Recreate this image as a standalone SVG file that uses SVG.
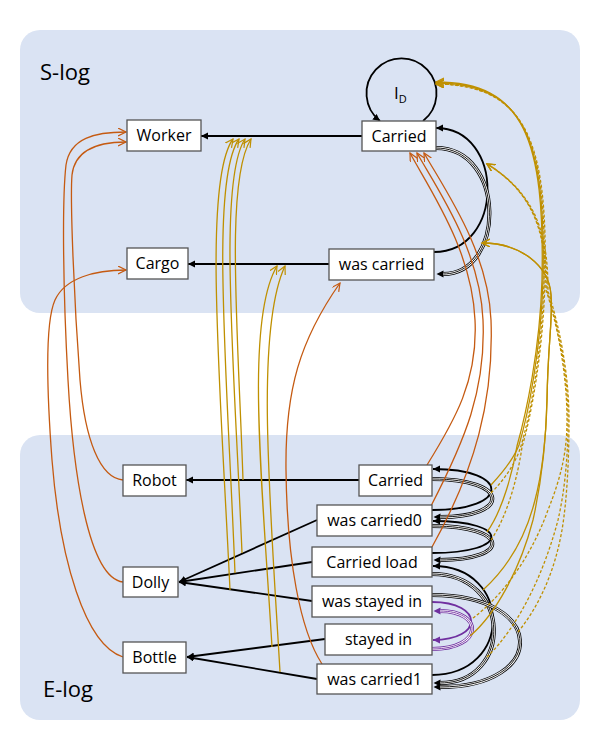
<svg xmlns="http://www.w3.org/2000/svg" xmlns:xlink="http://www.w3.org/1999/xlink" width="599" height="749" viewBox="0 0 599 749">
<style>
.panel{fill:#dae3f3}
.box{fill:#fff;stroke:#555;stroke-width:1.3}
.t{font-family:"Open Sans","Liberation Sans",sans-serif;font-size:16px;text-anchor:middle;fill:#000}
.lbl{font-family:"Open Sans","Liberation Sans",sans-serif;font-size:22px;fill:#000}
.blk{fill:none;stroke:#000;stroke-width:1.8;marker-end:url(#aTip)}
.to{fill:none;stroke:#000;stroke-width:4;marker-end:url(#aBase)}
.tw{fill:none;stroke:#fff;stroke-width:2.4}
.ti{fill:none;stroke:#000;stroke-width:0.9}
.po{fill:none;stroke:#7030A0;stroke-width:4;marker-end:url(#pBase)}
.pi{fill:none;stroke:#7030A0;stroke-width:0.9}
.ps{fill:none;stroke:#7030A0;stroke-width:1.8;marker-end:url(#pTip)}
.or{fill:none;stroke:#C55A11;stroke-width:1.3;marker-end:url(#oArr)}
.gd{fill:none;stroke:#BF9000;stroke-width:1.3;marker-end:url(#gArr)}
.gdd{fill:none;stroke:#BF9000;stroke-width:1.3;stroke-dasharray:3 2;marker-end:url(#gArr)}
</style>
<defs>
<marker id="aTip" markerUnits="userSpaceOnUse" markerWidth="9" markerHeight="9" refX="7" refY="3.5" orient="auto"><path d="M0,0 L7,3.5 L0,7 z" fill="#000"/></marker>
<marker id="aBase" markerUnits="userSpaceOnUse" markerWidth="9" markerHeight="9" refX="0.5" refY="3.5" orient="auto"><path d="M0,0 L7,3.5 L0,7 z" fill="#000"/></marker>
<marker id="pTip" markerUnits="userSpaceOnUse" markerWidth="9" markerHeight="9" refX="7" refY="3.5" orient="auto"><path d="M0,0 L7,3.5 L0,7 z" fill="#7030A0"/></marker>
<marker id="pBase" markerUnits="userSpaceOnUse" markerWidth="9" markerHeight="9" refX="0.5" refY="3.5" orient="auto"><path d="M0,0 L7,3.5 L0,7 z" fill="#7030A0"/></marker>
<marker id="oArr" markerUnits="userSpaceOnUse" markerWidth="10" markerHeight="10" refX="8" refY="4" orient="auto"><path d="M0,0 L8,4 L0,8" fill="none" stroke="#C55A11" stroke-width="1.2"/></marker>
<marker id="gArr" markerUnits="userSpaceOnUse" markerWidth="10" markerHeight="10" refX="8" refY="4" orient="auto"><path d="M0,0 L8,4 L0,8" fill="none" stroke="#BF9000" stroke-width="1.2"/></marker>
<path id="sT" d="M436,148 C506,148 506,274 443,274"/>
<path id="e1T" d="M432,479 C511,479 511,517 440,517"/>
<path id="e2T" d="M432,526 C511,526 511,560 440,560"/>
<path id="e3T" d="M432,574 C513,574 513,683 440,683"/>
<path id="e4T" d="M432,595 C548,595 548,687 440,687"/>
<path id="pT" d="M432,649 C484,649 484,611 440,611"/>
</defs>

<rect class="panel" x="20" y="30" width="560" height="283" rx="20"/>
<rect class="panel" x="20" y="435" width="560" height="285" rx="20"/>
<text class="lbl" x="40" y="80">S-log</text>
<text class="lbl" x="43" y="697">E-log</text>

<g id="connectors">
<!-- black straight -->
<path class="blk" d="M362,136 L201,136"/>
<path class="blk" d="M329,264 L188,264"/>
<path class="blk" d="M359,480 L186,480"/>
<path class="blk" d="M317,520 L179,582"/>
<path class="blk" d="M312,562 L179,582"/>
<path class="blk" d="M312,601 L179,582"/>
<path class="blk" d="M325,639 L187,657"/>
<path class="blk" d="M317,679 L187,657"/>
<!-- I_D loop -->
<path class="blk" d="M423,121 A35,35 0 1 0 380,121"/>
<!-- S-log loops -->
<path class="blk" d="M434,252 C505,252 505,128 436,128"/>
<use xlink:href="#sT" class="to"/><use xlink:href="#sT" class="tw"/><use xlink:href="#sT" class="ti"/>
<!-- E-log loops -->
<path class="blk" d="M432,510 C511,510 511,469 433,469"/>
<use xlink:href="#e1T" class="to"/><use xlink:href="#e1T" class="tw"/><use xlink:href="#e1T" class="ti"/>
<use xlink:href="#e2T" class="to"/><use xlink:href="#e2T" class="tw"/><use xlink:href="#e2T" class="ti"/>
<path class="blk" d="M432,553 C511,553 511,521 433,521"/>
<path class="blk" d="M432,675 C513,675 513,566 433,566"/>
<use xlink:href="#e3T" class="to"/><use xlink:href="#e3T" class="tw"/><use xlink:href="#e3T" class="ti"/>
<use xlink:href="#e4T" class="to"/><use xlink:href="#e4T" class="tw"/><use xlink:href="#e4T" class="ti"/>
<!-- purple -->
<path class="ps" d="M432,602 C484,602 484,640 433,640"/>
<use xlink:href="#pT" class="po"/><use xlink:href="#pT" class="tw"/><use xlink:href="#pT" class="pi"/>
<!-- orange -->
<path class="or" d="M123,582 C88,578 73,470 68,380 C63,290 62,200 66,165 C70,138 95,132 126,132"/>
<path class="or" d="M123,480 C100,478 85,440 80,380 C74,300 70,200 72,175 C75,148 100,142 126,142"/>
<path class="or" d="M123,657 C85,645 60,560 52,460 C46,380 46,320 55,300 C65,278 95,270 126,270"/>
<path class="or" d="M427,465 C455,420 478,380 475,320 C472,250 430,190 410,153"/>
<path class="or" d="M431,506 C465,440 486,390 483,320 C480,250 438,190 417,153"/>
<path class="or" d="M432,547 C475,470 494,400 491,320 C488,250 445,190 424,153"/>
<path class="or" d="M322,664 C300,630 287,560 286,470 C285,390 300,340 340,283"/>
<!-- gold to Worker edge -->
<path class="gd" d="M230,590 C220,380 203,180 233,139"/>
<path class="gd" d="M235,573 C227,370 210,180 239,139"/>
<path class="gd" d="M242,553 C234,360 218,180 245,139"/>
<path class="gd" d="M243,480 C238,330 225,180 251,139"/>
<!-- gold to Cargo edge -->
<path class="gd" d="M272,647 C262,480 245,320 277,266"/>
<path class="gd" d="M280,672 C270,500 255,330 285,266"/>
<!-- gold to I_D -->
<path class="gd" d="M491,485 C505,470 514,458 519,445 C528,415 541,350 543,280 C546,140 525,83 436,83"/>
<path class="gdd" d="M491,493 C506,478 516,462 521,446 C530,416 542,352 544,281 C547,141 526,84 436,84"/>
<path class="gd" d="M487,532 C503,510 513,470 517,446 C526,414 540,350 542,280 C545,139 524,82 436,82"/>
<path class="gdd" d="M491,540 C508,515 518,475 522,447 C531,417 543,353 545,281 C548,142 527,85 436,84"/>
<!-- gold to S triple loop -->
<path class="gd" d="M483,590 C505,570 525,540 535,500 C543,470 546,440 547,400 C548,340 553,320 551,295 C549,265 520,243 482,243"/>
<path class="gd" d="M470,636 C495,615 520,570 533,520 C542,480 546,440 547,400 C548,340 553,320 551,295 C549,265 520,243 482,243"/>
<!-- gold to S single loop -->
<path class="gdd" d="M473,618 C500,598 530,560 548,510 C562,475 567,450 567,420 C567,370 556,320 546,290 C546,240 538,195 487,164"/>
<path class="gdd" d="M487,657 C520,625 545,570 558,520 C565,490 568,455 568,420 C568,370 557,322 547,291 C547,241 539,196 487,164"/>
<path class="gdd" d="M518,632 C540,605 555,570 562,530 C567,500 569,460 569,420 C569,370 558,322 548,291 C548,241 540,196 487,164"/>
</g>

<g id="n-worker"><rect class="box" x="127" y="120" width="74" height="31"/><text class="t" x="164" y="141">Worker</text></g>
<g id="n-cargo"><rect class="box" x="127" y="248" width="61" height="31"/><text class="t" x="157.5" y="269">Cargo</text></g>
<g id="n-carried-s"><rect class="box" x="362" y="121" width="74" height="30"/><text class="t" x="399" y="141.5">Carried</text></g>
<g id="n-wascarried-s"><rect class="box" x="329" y="249" width="105" height="31"/><text class="t" x="381.5" y="270">was carried</text></g>
<g id="n-id"><text x="394" y="99" font-family="Open Sans, Liberation Sans, sans-serif" font-size="17">I<tspan font-size="11" dy="4">D</tspan></text></g>
<g id="n-robot"><rect class="box" x="123" y="465" width="63" height="31"/><text class="t" x="154.5" y="486">Robot</text></g>
<g id="n-dolly"><rect class="box" x="123" y="567" width="55" height="30"/><text class="t" x="150.5" y="587.5">Dolly</text></g>
<g id="n-bottle"><rect class="box" x="123" y="642" width="63" height="31"/><text class="t" x="154.5" y="663">Bottle</text></g>
<g id="n-carried-e"><rect class="box" x="359" y="465" width="73" height="31"/><text class="t" x="395.5" y="486">Carried</text></g>
<g id="n-wascarried0"><rect class="box" x="317" y="505" width="115" height="31"/><text class="t" x="374.5" y="526">was carried0</text></g>
<g id="n-carriedload"><rect class="box" x="312" y="547" width="120" height="30"/><text class="t" x="372" y="567.5">Carried load</text></g>
<g id="n-wasstayedin"><rect class="box" x="312" y="586" width="120" height="31"/><text class="t" x="372" y="607">was stayed in</text></g>
<g id="n-stayedin"><rect class="box" x="325" y="624" width="107" height="31"/><text class="t" x="378.5" y="645">stayed in</text></g>
<g id="n-wascarried1"><rect class="box" x="317" y="664" width="115" height="30"/><text class="t" x="374.5" y="684.5">was carried1</text></g>
</svg>
